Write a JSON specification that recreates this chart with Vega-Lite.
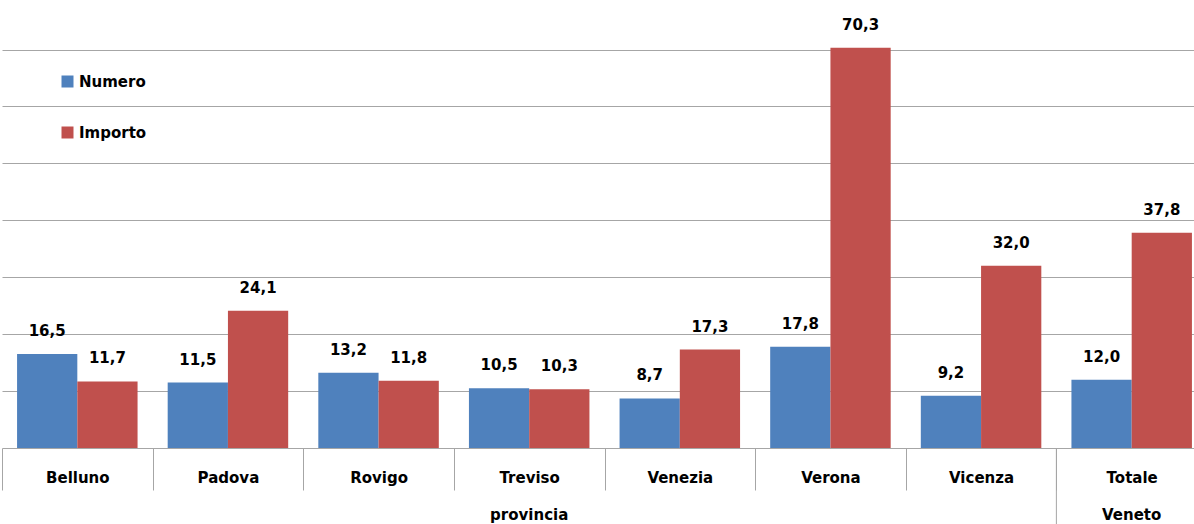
{
  "$schema": "https://vega.github.io/schema/vega-lite/v6.json",
  "width": 1194,
  "height": 448,
  "autosize": {"type": "none"},
  "padding": {"top": 0, "left": 0, "right": 0, "bottom": 76},
  "config": {
    "locale": {"number": {"decimal": ",", "thousands": ".", "grouping": [3], "currency": ["", " €"]}},
    "view": {"stroke": null},
    "font": "DejaVu Sans"
  },
  "datasets": {
    "valori": [
      {"provincia": "Belluno", "serie": "Numero", "valore": 16.5},
      {"provincia": "Belluno", "serie": "Importo", "valore": 11.7},
      {"provincia": "Padova", "serie": "Numero", "valore": 11.5},
      {"provincia": "Padova", "serie": "Importo", "valore": 24.1},
      {"provincia": "Rovigo", "serie": "Numero", "valore": 13.2},
      {"provincia": "Rovigo", "serie": "Importo", "valore": 11.8},
      {"provincia": "Treviso", "serie": "Numero", "valore": 10.5},
      {"provincia": "Treviso", "serie": "Importo", "valore": 10.3},
      {"provincia": "Venezia", "serie": "Numero", "valore": 8.7},
      {"provincia": "Venezia", "serie": "Importo", "valore": 17.3},
      {"provincia": "Verona", "serie": "Numero", "valore": 17.8},
      {"provincia": "Verona", "serie": "Importo", "valore": 70.3},
      {"provincia": "Vicenza", "serie": "Numero", "valore": 9.2},
      {"provincia": "Vicenza", "serie": "Importo", "valore": 32.0},
      {"provincia": "Totale", "serie": "Numero", "valore": 12.0},
      {"provincia": "Totale", "serie": "Importo", "valore": 37.8}
    ],
    "gruppi": [
      {"provincia": "Treviso", "etichetta": "provincia"},
      {"provincia": "Totale", "etichetta": "Veneto"}
    ],
    "separatore": [{"provincia": "Totale"}]
  },
  "layer": [
    {
      "data": {"name": "valori"},
      "mark": {"type": "bar"},
      "encoding": {
        "x": {
          "field": "provincia", "type": "nominal",
          "scale": {"domain": ["Belluno", "Padova", "Rovigo", "Treviso", "Venezia", "Verona", "Vicenza", "Totale"], "range": [2, 1207], "paddingInner": 0, "paddingOuter": 0},
          "axis": {"title": null, "labelAngle": 0, "labelFontSize": 15, "labelFontWeight": "bold", "labelColor": "#000000", "tickSize": 42, "tickColor": "#A6A6A6", "tickBand": "extent", "domainColor": "#A6A6A6", "labelPadding": -20}
        },
        "xOffset": {"field": "serie", "type": "nominal", "sort": ["Numero", "Importo"], "scale": {"paddingOuter": 0.25, "paddingInner": 0}},
        "y": {
          "field": "valore", "type": "quantitative",
          "scale": {"domain": [0, 78.7], "nice": false},
          "axis": {"title": null, "labels": false, "ticks": false, "domain": false, "values": [10, 20, 30, 40, 50, 60, 70], "gridColor": "#A6A6A6", "gridWidth": 1}
        },
        "color": {
          "field": "serie", "type": "nominal",
          "scale": {"domain": ["Numero", "Importo"], "range": ["#4F81BD", "#C0504D"]},
          "legend": {"title": null, "orient": "none", "legendX": 60, "legendY": 74, "symbolType": "square", "symbolSize": 144, "symbolStrokeWidth": 0, "labelFontSize": 15, "labelFontWeight": "bold", "labelColor": "#000000", "rowPadding": 35, "labelOffset": 4, "padding": 0}
        }
      }
    },
    {
      "data": {"name": "valori"},
      "mark": {"type": "text", "dy": -23, "baseline": "middle", "fontSize": 15, "fontWeight": "bold", "color": "#000000"},
      "encoding": {
        "x": {"field": "provincia", "type": "nominal"},
        "xOffset": {"field": "serie", "type": "nominal", "sort": ["Numero", "Importo"]},
        "y": {"field": "valore", "type": "quantitative"},
        "text": {"field": "valore", "type": "quantitative", "format": ".1f"}
      }
    },
    {
      "data": {"name": "separatore"},
      "mark": {"type": "rule", "color": "#A6A6A6", "strokeWidth": 1},
      "encoding": {
        "x": {"field": "provincia", "type": "nominal", "bandPosition": 0},
        "y": {"datum": 0},
        "y2": {"datum": -14}
      }
    },
    {
      "data": {"name": "gruppi"},
      "mark": {"type": "text", "dy": 67, "baseline": "middle", "fontSize": 15, "fontWeight": "bold", "color": "#000000"},
      "encoding": {
        "x": {"field": "provincia", "type": "nominal"},
        "y": {"datum": 0},
        "text": {"field": "etichetta", "type": "nominal"}
      }
    }
  ]
}
